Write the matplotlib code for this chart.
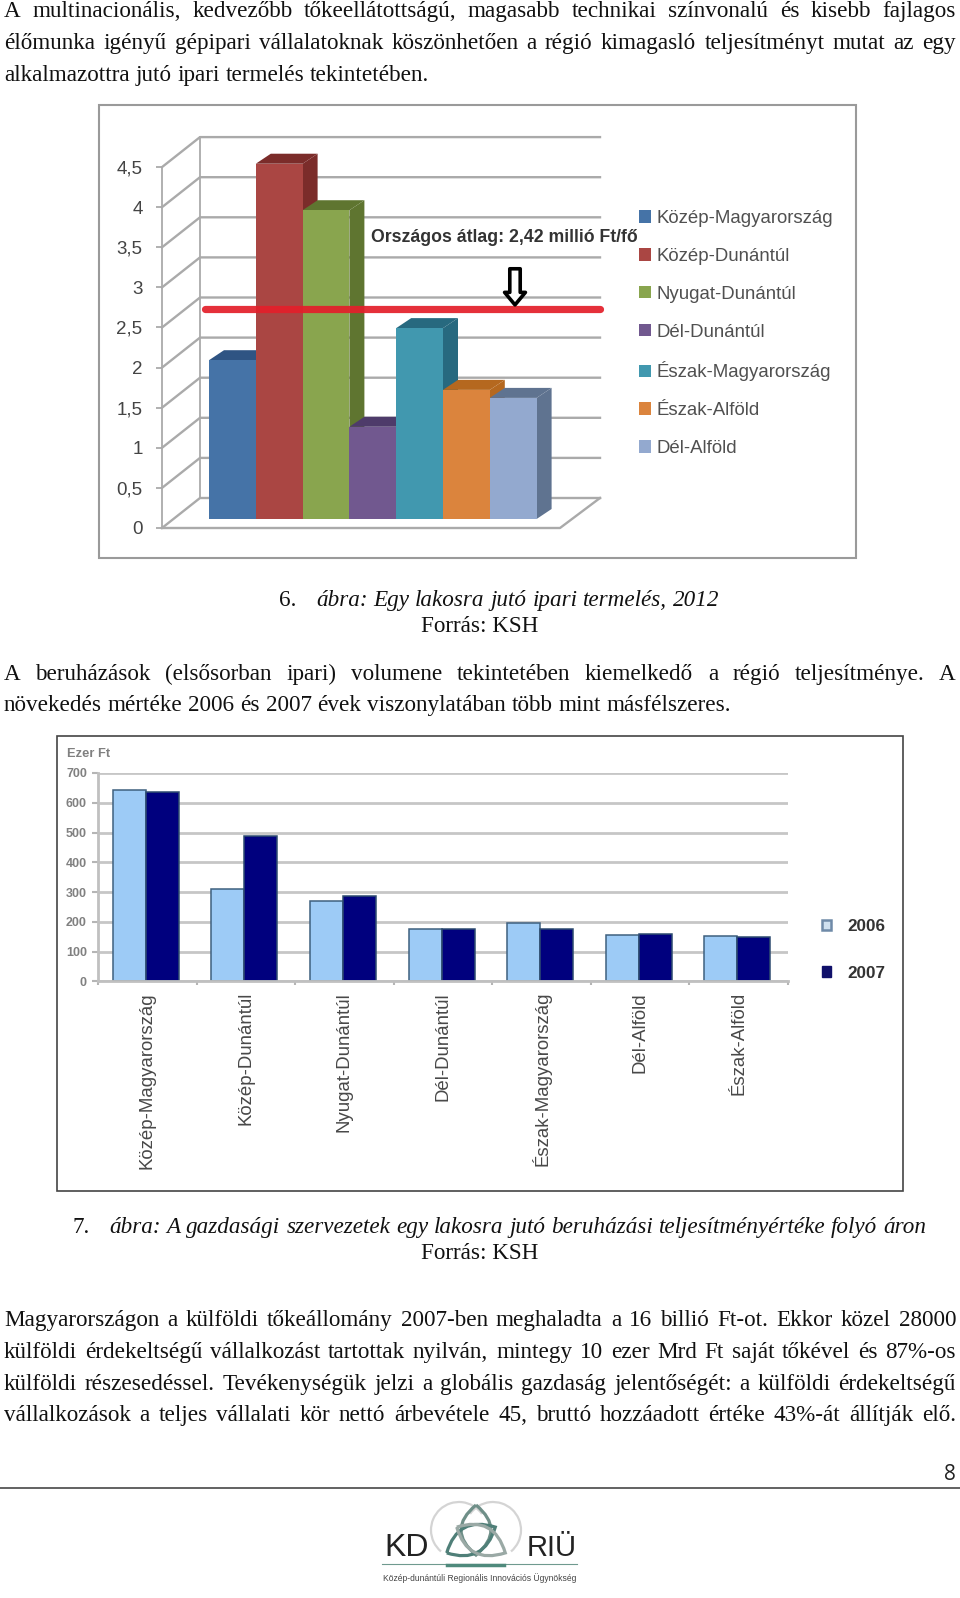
import matplotlib
matplotlib.use("Agg")
import matplotlib.pyplot as plt
from matplotlib.patches import Rectangle, Polygon, Patch, PathPatch, Arc
from matplotlib.path import Path
import numpy as np

W, H = 960, 1598

# first chart
regions1 = ["Közép-Magyarország", "Közép-Dunántúl", "Nyugat-Dunántúl", "Dél-Dunántúl",
            "Észak-Magyarország", "Észak-Alföld", "Dél-Alföld"]
values1 = [1.98, 4.43, 3.85, 1.15, 2.38, 1.61, 1.51]
front1 = ["#4573A7", "#AA4643", "#89A54E", "#71588F", "#4198AF", "#DB843D", "#93A9CF"]
dark1 = ["#2F5483", "#7B2C2A", "#5F7530", "#4E3B6A", "#27697F", "#B5681F", "#5F7390"]
ticks1 = [0, 0.5, 1, 1.5, 2, 2.5, 3, 3.5, 4, 4.5]
ticklabels1 = ["0", "0,5", "1", "1,5", "2", "2,5", "3", "3,5", "4", "4,5"]
avg_line = 2.62

# second chart
regions2 = ["Közép-Magyarország", "Közép-Dunántúl", "Nyugat-Dunántúl", "Dél-Dunántúl",
            "Észak-Magyarország", "Dél-Alföld", "Észak-Alföld"]
y2006 = [644, 312, 271, 176, 195, 155, 153]
y2007 = [635, 488, 288, 176, 175, 158, 148]

SERIF = "Liberation Serif"
SANS = "Liberation Sans"
BODY = 16.7

fig = plt.figure(figsize=(W / 100, H / 100), dpi=100, facecolor="white")


def px_axes(x0, y0, x1, y1, **kw):
    # axes rectangle given in picture pixels, y going down
    return fig.add_axes([x0 / W, 1 - y1 / H, (x1 - x0) / W, (y1 - y0) / H], **kw)


page = px_axes(0, 0, W, H)
page.set_xlim(0, W)
page.set_ylim(H, 0)
page.axis("off")
renderer = fig.canvas.get_renderer()


def line(s, y, x0=4, x1=956, justify=True, size=BODY, style="normal"):
    # one text line, word by word when it has to be justified
    words = s.split(" ")
    items = [page.text(x0, y, w, family=SERIF, fontsize=size, style=style, color="#111111",
                       va="baseline", ha="left") for w in words]
    widths = [t.get_window_extent(renderer).width for t in items]
    if justify and len(words) > 1:
        gap = (x1 - x0 - sum(widths)) / (len(words) - 1)
    else:
        gap = size * 0.25 * 100 / 72
    x = x0
    for t, w in zip(items, widths):
        t.set_x(x)
        x += w + gap


def lens(cx, cy, length, width, angle, color):
    # pointed leaf of the logo, two curves between two tips
    a = np.radians(angle)
    ux, uy = np.cos(a), np.sin(a)
    tip1 = (cx - ux * length / 2, cy - uy * length / 2)
    tip2 = (cx + ux * length / 2, cy + uy * length / 2)
    c1 = (cx - uy * width, cy + ux * width)
    c2 = (cx + uy * width, cy - ux * width)
    p = Path([tip1, c1, tip2, c2, tip1],
             [Path.MOVETO, Path.CURVE3, Path.CURVE3, Path.CURVE3, Path.CURVE3])
    page.add_patch(PathPatch(p, fc="none", ec=color, lw=2.3))


line("A multinacionális, kedvezőbb tőkeellátottságú, magasabb technikai színvonalú és kisebb fajlagos", 17)
line("élőmunka igényű gépipari vállalatoknak köszönhetően a régió kimagasló teljesítményt mutat az egy", 49)
line("alkalmazottra jutó ipari termelés tekintetében.", 81, justify=False)

line("6.", 606, x0=279, justify=False)
line("ábra: Egy lakosra jutó ipari termelés, 2012", 606, x0=316, justify=False, style="italic")
page.text(480, 632, "Forrás: KSH", family=SERIF, fontsize=BODY, ha="center", va="baseline", color="#111111")

line("A beruházások (elsősorban ipari) volumene tekintetében kiemelkedő a régió teljesítménye. A", 680)
line("növekedés mértéke 2006 és 2007 évek viszonylatában több mint másfélszeres.", 711, justify=False)

line("7.", 1233, x0=72, justify=False)
line("ábra: A gazdasági szervezetek egy lakosra jutó beruházási teljesítményértéke folyó áron", 1233,
     x0=109, justify=False, style="italic")
page.text(480, 1259, "Forrás: KSH", family=SERIF, fontsize=BODY, ha="center", va="baseline", color="#111111")

line("Magyarországon a külföldi tőkeállomány 2007-ben meghaladta a 16 billió Ft-ot. Ekkor közel 28000", 1326)
line("külföldi érdekeltségű vállalkozást tartottak nyilván, mintegy 10 ezer Mrd Ft saját tőkével és 87%-os", 1358)
line("külföldi részesedéssel. Tevékenységük jelzi a globális gazdaság jelentőségét: a külföldi érdekeltségű", 1390)
line("vállalkozások a teljes vállalati kör nettó árbevétele 45, bruttó hozzáadott értéke 43%-át állítják elő.", 1421)

# frames
page.add_patch(Rectangle((99, 105), 757, 453, fc="white", ec="#9a9a9a", lw=1.5))
page.add_patch(Rectangle((57, 736), 846, 455, fc="white", ec="#444444", lw=1.2))

# footer
page.plot([0, W], [1488, 1488], color="#555555", lw=1.3)
page.text(950, 1480, "8", family="Open Sans", fontsize=15, ha="center", va="baseline", color="#222222")

# logo
page.add_patch(Arc((459, 1530), 56, 56, theta1=130, theta2=325, ec="#d4d4d4", lw=1.6))
page.add_patch(Arc((493, 1530), 56, 56, theta1=215, theta2=410, ec="#d4d4d4", lw=1.6))
lens(476, 1530, 50, 30, 90, "#6f8f88")
lens(471, 1540, 55, 28, -28, "#4f7f78")
lens(481, 1540, 55, 28, 28, "#9aa9a5")
page.text(407, 1556, "KD", family=SANS, fontsize=23, ha="center", va="baseline", color="#222222")
page.text(552, 1556, "RIÜ", family=SANS, fontsize=21, ha="center", va="baseline", color="#222222")
page.plot([382, 577], [1564, 1564], color="#6f9a8f", lw=0.8)
page.plot([447, 504], [1565, 1565], color="#4f8a7c", lw=2.5)
page.text(480, 1578, "Közép-dunántúli Regionális Innovációs Ügynökség", family=SANS, fontsize=6.15,
          ha="center", va="center", color="#444444")

# chart 1: walls in one axes with the real value axis
SC = 80.2
wall = px_axes(162, 528 - 4.5 * SC, 560, 528, facecolor="none")
wall.set_xlim(162, 560)
wall.set_ylim(0, 4.5)
DX, DY = 38, 30 / SC
GRID = "#aaaaaa"
for v in ticks1:
    wall.plot([162, 162 + DX, 600], [v, v + DY, v + DY], color=GRID, lw=1.7, clip_on=False)
wall.plot([162 + DX, 162 + DX], [DY, 4.5 + DY], color=GRID, lw=1.3, clip_on=False)
wall.plot([162, 560, 600], [0, 0, DY], color=GRID, lw=1.7, clip_on=False)
wall.set_yticks(ticks1)
wall.set_yticklabels(ticklabels1, family=SANS, fontsize=13.5, color="#444444")
wall.set_xticks([])
for s in ["top", "right", "bottom"]:
    wall.spines[s].set_visible(False)
wall.spines["left"].set_color(GRID)
wall.spines["left"].set_linewidth(1.3)
wall.tick_params(axis="y", color=GRID, length=4, width=1.3, pad=10)

# chart 1: bars, one category unit wide
UNIT = 46.8
bars = px_axes(150, 130, 660, 519, facecolor="none")
bars.set_xlim((150 - 209) / UNIT, (660 - 209) / UNIT)
bars.set_ylim(0, (519 - 130) / SC)
bars.axis("off")
ddx, ddy = 15 / UNIT, 10 / SC
for i, (v, f, d) in enumerate(zip(values1, front1, dark1)):
    bars.add_patch(Polygon([(i + 1, 0), (i + 1 + ddx, ddy), (i + 1 + ddx, v + ddy), (i + 1, v)], fc=d, ec="none", zorder=2 + i))
    bars.add_patch(Polygon([(i, v), (i + ddx, v + ddy), (i + 1 + ddx, v + ddy), (i + 1, v)], fc=d, ec="none", zorder=2 + i))
    bars.bar(i + 0.5, v, width=1, color=f, edgecolor="none", zorder=2 + i)

bars.plot([(205 - 209) / UNIT, (600 - 209) / UNIT], [avg_line, avg_line], color="#E3202B", lw=5.2,
          solid_capstyle="round", alpha=0.93, zorder=20)
bars.annotate("", xy=((515 - 209) / UNIT, avg_line + 0.05), xytext=((515 - 209) / UNIT, avg_line + 0.5),
              arrowprops=dict(arrowstyle="simple,head_width=1.0,head_length=0.6,tail_width=0.5",
                              mutation_scale=15, fc="white", ec="black", lw=2.6, shrinkA=0, shrinkB=0),
              zorder=21)
bars.text((371 - 209) / UNIT, (519 - 238) / SC, "Országos átlag: 2,42 millió Ft/fő", family=SANS,
          fontsize=12.7, weight="bold", color="#333333", ha="left", va="center", zorder=22)

handles1 = [Patch(fc=c, ec="none", label=r) for c, r in zip(front1, regions1)]
fig.legend(handles=handles1, loc="upper left", bbox_to_anchor=(639 / W, 1 - 210 / H), frameon=False,
           prop=dict(family=SANS, size=13.4), labelcolor="#505050", handlelength=0.66,
           handleheight=0.66, handletextpad=0.3, labelspacing=1.12, borderpad=0, borderaxespad=0)

# chart 2
ax2 = px_axes(98, 773, 788, 981.5, facecolor="none")
x = np.arange(len(regions2))
bw = 33 / (690 / 7)
ax2.set_axisbelow(True)
ax2.grid(axis="y", color="#c6c6c6", lw=2)
ax2.bar(x + 0.485 - bw / 2, y2006, width=bw, color="#9DCBF6", edgecolor="#3F607F", lw=1.1)
ax2.bar(x + 0.485 + bw / 2, y2007, width=bw, color="#00007E", edgecolor="#2E4C70", lw=1.1)
ax2.set_xlim(0, 7)
ax2.set_ylim(0, 700)
ax2.set_yticks(range(0, 701, 100))
ax2.set_yticklabels([str(v) for v in range(0, 701, 100)], family=SANS, fontsize=9, weight="bold", color="#808080")
ax2.set_xticks(np.arange(0, 8))
ax2.set_xticks(x + 0.5, minor=True)
ax2.set_xticklabels([""] * 8)
ax2.set_xticklabels(regions2, minor=True, rotation=90, family=SANS, fontsize=13.4, color="#484848", va="top", ha="center")
ax2.tick_params(axis="x", which="major", length=3, color="#b5b5b5", width=1.5)
ax2.tick_params(axis="x", which="minor", length=0, pad=7.5)
ax2.tick_params(axis="y", length=4, color="#b5b5b5", width=1.5, pad=4)
for s in ["top", "right"]:
    ax2.spines[s].set_visible(False)
for s in ["left", "bottom"]:
    ax2.spines[s].set_color("#c0c0c0")
    ax2.spines[s].set_linewidth(2)
page.text(67, 757, "Ezer Ft", family=SANS, fontsize=9.3, weight="bold", color="#808080", ha="left", va="baseline")
handles2 = [Patch(fc="#cfe0ef", ec="#6f8aa8", lw=1.8, label="2006"), Patch(fc="#10106a", ec="#10106a", lw=1, label="2007")]
fig.legend(handles=handles2, loc="upper left", bbox_to_anchor=(822 / W, 1 - 919 / H), frameon=False,
           prop=dict(family=SANS, size=12.3, weight="bold"), labelcolor="#333333", handlelength=0.55,
           handleheight=0.55, handletextpad=0.95, labelspacing=1.85, borderpad=0, borderaxespad=0)

fig.savefig("out.png", dpi=100)
